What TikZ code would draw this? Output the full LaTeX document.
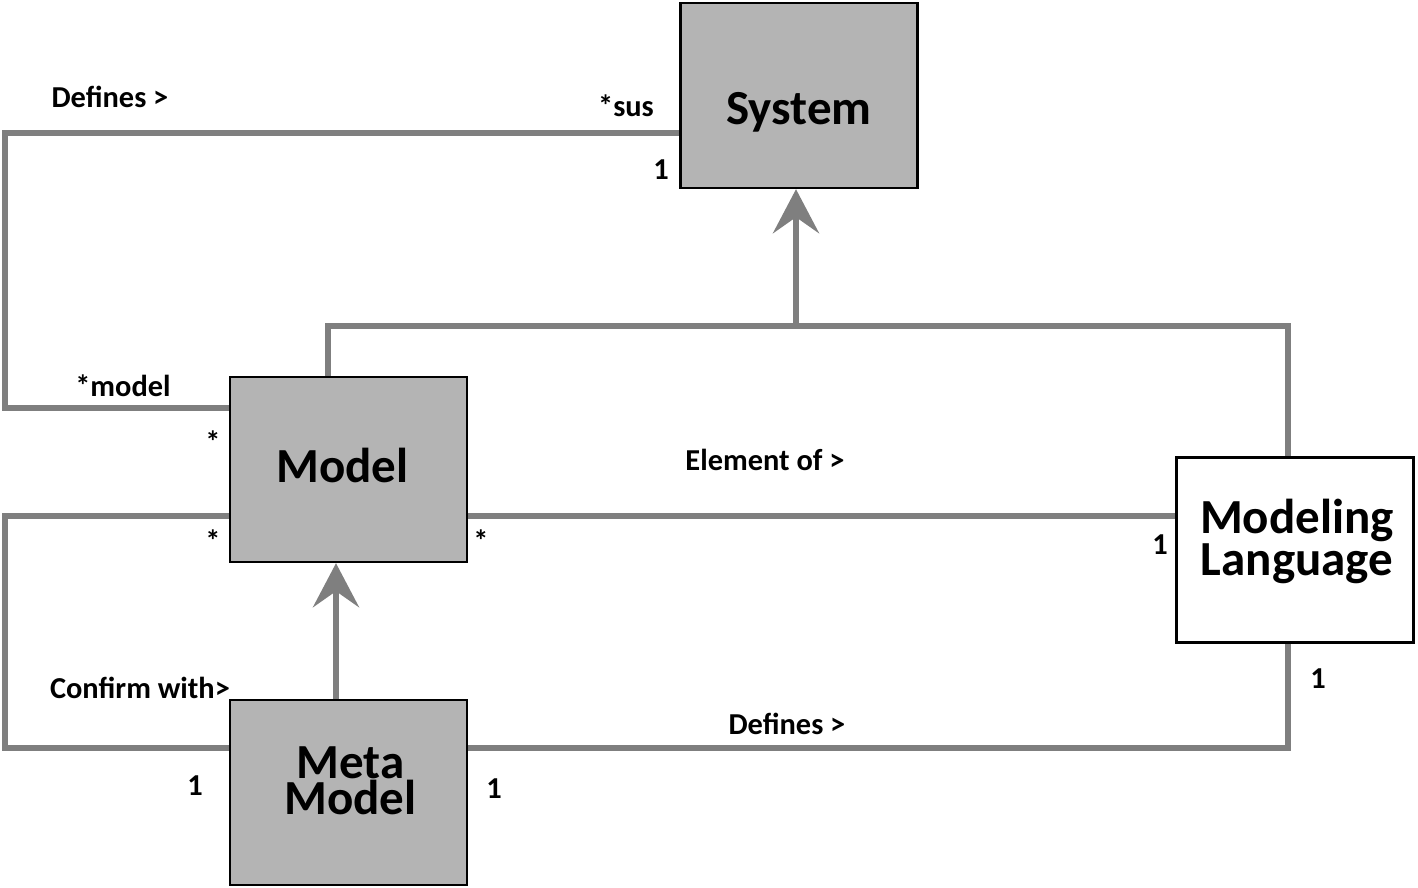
\documentclass[tikz,border=0pt]{standalone}
\usepackage{fontspec}
\setmainfont{Carlito}
\usetikzlibrary{arrows.meta,calc}

\definecolor{boxgray}{HTML}{B4B4B4}
\definecolor{linegray}{HTML}{7F7F7F}

\tikzset{
  cls/.style={draw=black, line width=1.2pt, fill=boxgray, minimum width=118.5pt,
    minimum height=92.5pt, inner sep=0pt},
  boxtxt/.style={font=\bfseries\fontsize{24.5}{18}\selectfont, align=center, inner sep=0pt},
  assoc/.style={draw=linegray, line width=3pt},
  gen/.style={assoc, -{Stealth[length=22pt,width=23pt,inset=8pt]}},
  lbl/.style={font=\bfseries\fontsize{15.2}{17}\selectfont, inner sep=0pt},
}

\begin{document}
\begin{tikzpicture}[x=0.5pt,y=-0.5pt]
\useasboundingbox (0,0) rectangle (1418,888);

% classes
\node[cls, label={[boxtxt,yshift=-8.25pt]center:System}] (sys) at (799,95.5) {};
\node[cls, label={[boxtxt,xshift=-3pt,yshift=2.25pt]center:Model}] (model) at (348.5,469.5) {};
\node[cls, label={[boxtxt,xshift=1pt,yshift=5.75pt]center:Meta\\Model}] (meta) at (348.5,792.5) {};
\node[cls, fill=white, label={[boxtxt,xshift=1pt,yshift=4.5pt]center:Modeling\\Language}] (lang) at (1295,550) {};
\coordinate (join) at (796,326);

% associations
\draw[assoc] ($(model.west)+(0,-61.5)$) -- ++(-224,0) |- ($(sys.west)+(0,37.5)$);
\draw[assoc] ($(model.west)+(0,46.5)$) -- ++(-224,0) |- ($(meta.west)+(0,-44.5)$);
\draw[assoc] ($(model.east)+(0,46.5)$) -- ($(lang.west)+(0,-34)$);
\draw[assoc] ($(meta.east)+(0,-44.5)$) -| ($(lang.south)+(-7,0)$);

% generalisations
\draw[assoc] ($(model.north)+(-20.5,0)$) |- (join) -| ($(lang.north)+(-7,0)$);
\draw[gen] (join) -- (join |- sys.south);
\draw[gen] ($(meta.north)+(-12.5,0)$) -- ($(model.south)+(-12.5,0)$);

% roles and multiplicities
\node[lbl] (l-def1) at (110,97) {Defines >};
\node[lbl] (l-sus) at (626,106) {*sus};
\node[lbl] (l-one1) at (661,170) {1};
\node[lbl] (l-mdl) at (123,386) {*model};
\node[lbl] (l-st1) at (213,442) {*};
\node[lbl] (l-elem) at (765,460) {Element of >};
\node[lbl] (l-st2) at (213,541) {*};
\node[lbl] (l-st3) at (481,541) {*};
\node[lbl] (l-one2) at (1160,545) {1};
\node[lbl] (l-one3) at (1318,679) {1};
\node[lbl] (l-conf) at (140,688) {Confirm with>};
\node[lbl] (l-def2) at (787,724) {Defines >};
\node[lbl] (l-one4) at (195,786) {1};
\node[lbl] (l-one5) at (494,789) {1};
\end{tikzpicture}
\end{document}
